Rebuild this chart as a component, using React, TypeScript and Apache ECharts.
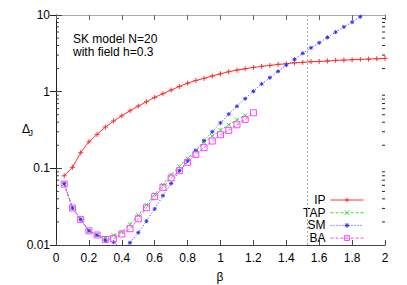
import React, { useEffect, useRef } from "react";
import * as echarts from "echarts";

const FONT = '"Liberation Sans", Arial, Helvetica, sans-serif';

const beta = [
  0.05, 0.1, 0.15, 0.2, 0.25, 0.3, 0.35, 0.4, 0.45, 0.5,
  0.55, 0.6, 0.65, 0.7, 0.75, 0.8, 0.85, 0.9, 0.95, 1.0,
  1.05, 1.1, 1.15, 1.2, 1.25, 1.3, 1.35, 1.4, 1.45, 1.5,
  1.55, 1.6, 1.65, 1.7, 1.75, 1.8, 1.85, 1.9, 1.95, 2.0,
];

const ipValues = [
  0.080, 0.103, 0.160, 0.222, 0.277, 0.345, 0.414, 0.485, 0.564, 0.649,
  0.738, 0.843, 0.94, 1.05, 1.17, 1.29, 1.40, 1.49, 1.60, 1.71,
  1.82, 1.91, 1.99, 2.07, 2.14, 2.20, 2.27, 2.31, 2.38, 2.41,
  2.46, 2.48, 2.51, 2.56, 2.58, 2.61, 2.63, 2.66, 2.69, 2.72,
];

const tapValues = [
  0.0624, 0.0304, 0.0216, 0.0153, 0.0136, 0.0124, 0.0134, 0.0149, 0.0186, 0.0244,
  0.0335, 0.0458, 0.061, 0.083, 0.106, 0.135, 0.172, 0.218, 0.264, 0.316,
  0.37, 0.43, 0.49,
];

const smValues = [
  0.063, 0.0304, 0.0216, 0.0153, 0.0134, 0.0115, 0.0109, 0.009, 0.0107, 0.0145,
  0.0205, 0.0295, 0.044, 0.0635, 0.093, 0.125, 0.17, 0.23, 0.30, 0.392,
  0.51, 0.645, 0.81, 1.01, 1.26, 1.52, 1.84, 2.22, 2.64, 3.16,
  3.73, 4.34, 5.1, 5.98, 7.0, 8.07, 9.5, 11.1,
];

const baValues = [
  0.0624, 0.0304, 0.0216, 0.0153, 0.0135, 0.0118, 0.0121, 0.0139, 0.0163, 0.022,
  0.0306, 0.0427, 0.0565, 0.075, 0.093, 0.12, 0.152, 0.186, 0.227, 0.274,
  0.313, 0.37, 0.435, 0.53,
];

const seriesNames = ["IP", "TAP", "SM", "BA"];
const xTickLabels = ["0", "0.2", "0.4", "0.6", "0.8", "1", "1.2", "1.4", "1.6", "1.8", "2"];
const yTickLabels = ["0.01", "0.1", "1", "10"];
const yMinorFactors = [2, 3, 4, 5, 6, 7, 8, 9];
const yDecades = [0.01, 0.1, 1];
const criticalBeta = 1.53;

const pairs = (vals: number[]) => vals.map((v, i) => [beta[i], v]);

export default function App() {
  const ref = useRef<HTMLDivElement>(null);
  useEffect(() => {
    document.body.style.margin = "0";
    const chart = echarts.init(ref.current!, null, { renderer: "svg" });
    const red = "#ff3030";
    const green = "#30e030";
    const blue = "#3030ff";
    const magenta = "#ff40ff";
    const xBase = {
      type: "value" as const,
      min: 0,
      max: 2,
      interval: 0.2,
      splitLine: { show: false },
    };
    const yBase = {
      type: "log" as const,
      logBase: 10,
      min: 0.01,
      max: 10,
      splitLine: { show: false },
    };
    chart.setOption({
      animation: false,
      backgroundColor: "#fff",
      textStyle: { fontFamily: FONT },
      grid: { left: 56, right: 22, top: 15, bottom: 40 },
      xAxis: [
        {
          ...xBase,
          position: "bottom",
          axisLine: { lineStyle: { color: "#444", width: 1 } },
          axisTick: { inside: true, length: 5, lineStyle: { color: "#444" } },
          axisLabel: {
            color: "#000",
            fontSize: 12,
            fontFamily: FONT,
            margin: 7,
            formatter: (_v: number, i: number) => xTickLabels[i],
          },
        },
        {
          ...xBase,
          position: "top",
          axisLine: { lineStyle: { color: "#aaa", width: 1 } },
          axisTick: { inside: true, length: 5, lineStyle: { color: "#666" } },
          axisLabel: { show: false },
        },
      ],
      yAxis: [
        {
          ...yBase,
          position: "left",
          axisLine: { lineStyle: { color: "#888", width: 1 } },
          axisTick: { inside: true, length: 6, lineStyle: { color: "#444" } },
          axisLabel: {
            color: "#000",
            fontSize: 12,
            fontFamily: FONT,
            margin: 6,
            formatter: (_v: number, i: number) => yTickLabels[i],
          },
        },
        {
          ...yBase,
          position: "right",
          axisLine: { lineStyle: { color: "#222", width: 1 } },
          axisTick: { inside: true, length: 6, lineStyle: { color: "#222" } },
          axisLabel: { show: false },
        },
      ],
      legend: {
        data: seriesNames,
        orient: "vertical",
        right: 38,
        top: 189,
        align: "right",
        itemWidth: 33,
        itemHeight: 6,
        itemGap: 0.7,
        lineStyle: { width: 1 },
        itemStyle: { borderWidth: 1 },
        textStyle: { color: "#000", fontSize: 12, lineHeight: 12, fontFamily: FONT },
      },
      series: [
        {
          name: "IP",
          type: "line",
          data: pairs(ipValues),
          symbol: "path://M5,0L5,10M0,5L10,5",
          symbolSize: 5,
          lineStyle: { color: red, width: 1 },
          itemStyle: { color: red, borderColor: red, borderWidth: 1 },
        },
        {
          name: "TAP",
          type: "line",
          data: pairs(tapValues),
          symbol: "path://M0,0L10,10M0,10L10,0",
          symbolSize: 4,
          lineStyle: { color: green, width: 1, type: [3, 2] },
          itemStyle: { color: green, borderColor: green, borderWidth: 1 },
        },
        {
          name: "SM",
          type: "line",
          data: pairs(smValues),
          symbol: "path://M5,0L5,10M0,5L10,5M1.5,1.5L8.5,8.5M1.5,8.5L8.5,1.5",
          symbolSize: 4,
          lineStyle: { color: blue, width: 1, type: [1, 2] },
          itemStyle: { color: blue, borderColor: blue, borderWidth: 1 },
          markLine: {
            silent: true,
            symbol: "none",
            label: { show: false },
            lineStyle: { color: "#aaa", type: [2, 2], width: 1 },
            data: [{ xAxis: criticalBeta }],
          },
        },
        {
          name: "BA",
          type: "line",
          data: pairs(baValues),
          symbol: "path://M0,0L10,0L10,10L0,10Z",
          symbolSize: 6,
          lineStyle: { color: magenta, width: 1, type: [3, 2] },
          itemStyle: { color: "rgba(255,255,255,0)", borderColor: magenta, borderWidth: 1 },
        },
      ],
    });

    const xl = chart.convertToPixel({ xAxisIndex: 0 }, 0) as number;
    const xr = chart.convertToPixel({ xAxisIndex: 0 }, 2) as number;
    const ticks: any[] = [];
    yDecades.forEach((d) => {
      yMinorFactors.forEach((k) => {
        const y = chart.convertToPixel({ yAxisIndex: 0 }, k * d) as number;
        ticks.push({
          type: "line",
          silent: true,
          shape: { x1: xl, y1: y, x2: xl + 3, y2: y },
          style: { stroke: "#444", lineWidth: 1 },
        });
        ticks.push({
          type: "line",
          silent: true,
          shape: { x1: xr - 3, y1: y, x2: xr, y2: y },
          style: { stroke: "#222", lineWidth: 1 },
        });
      });
    });
    const txt = (x: number, y: number, text: string, size: number, align = "left") => ({
      type: "text",
      x,
      y,
      silent: true,
      style: { text, fontSize: size, fontFamily: FONT, fill: "#000", align, verticalAlign: "middle" },
    });
    chart.setOption({
      graphic: [
        ...ticks,
        txt(73, 39, "SK model N=20", 12),
        txt(73, 52, "with field h=0.3", 12),
        txt(22, 129, "Δ", 12),
        txt(28.5, 133, "J", 9),
        txt(220, 277, "β", 12, "center"),
      ],
    });
    return () => chart.dispose();
  }, []);
  return <div ref={ref} style={{ position: "fixed", left: 0, top: 0, width: 407, height: 285 }} />;
}
